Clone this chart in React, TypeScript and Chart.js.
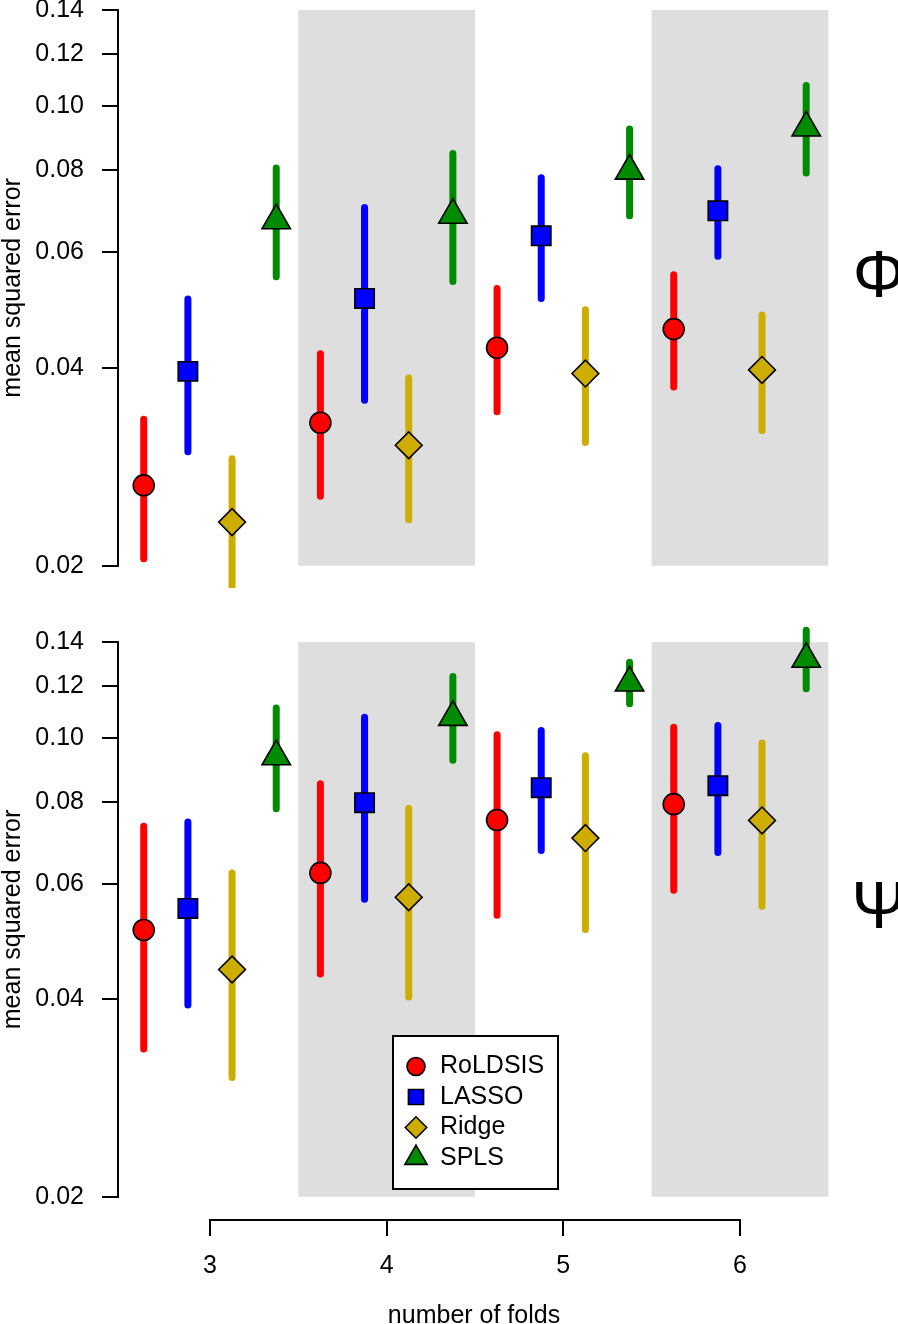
import React, { useEffect, useRef } from 'react';
import { Chart, registerables } from 'chart.js';

Chart.register(...registerables);

// ---------------- data ----------------
const folds = [3, 4, 5, 6];
const methods = ['RoLDSIS', 'LASSO', 'Ridge', 'SPLS'];
const methodOffsets = [-0.375, -0.125, 0.125, 0.375];
const shadedFolds = [4, 6];
const yTickValues = [0.02, 0.04, 0.06, 0.08, 0.1, 0.12, 0.14];
const xTickValues = [3, 4, 5, 6];
const yTitle = 'mean squared error';
const xTitle = 'number of folds';
const panelSymbols = ['Φ', 'Ψ'];

// rows: RoLDSIS, LASSO, Ridge, SPLS ; columns: folds 3, 4, 5, 6
const phiMean = [
  [0.0265, 0.033, 0.0429, 0.0458],
  [0.0395, 0.051, 0.0635, 0.0693],
  [0.0233, 0.0305, 0.0392, 0.0397],
  [0.067, 0.0683, 0.0797, 0.0927],
];
const phiLower = [
  [0.0205, 0.0255, 0.0343, 0.0374],
  [0.0298, 0.0357, 0.051, 0.0591],
  [0.0185, 0.0235, 0.0308, 0.0321],
  [0.055, 0.0541, 0.0681, 0.0791],
];
const phiUpper = [
  [0.0334, 0.042, 0.0528, 0.0554],
  [0.0509, 0.0701, 0.0778, 0.0803],
  [0.0291, 0.0386, 0.049, 0.0481],
  [0.0805, 0.0847, 0.0923, 0.1075],
];
const psiMean = [
  [0.051, 0.0623, 0.075, 0.0793],
  [0.055, 0.0797, 0.084, 0.0846],
  [0.0444, 0.0572, 0.0704, 0.0749],
  [0.0937, 0.1076, 0.1214, 0.1319],
];
const psiLower = [
  [0.0336, 0.0437, 0.0537, 0.0586],
  [0.0392, 0.0568, 0.0674, 0.0669],
  [0.0304, 0.0403, 0.0511, 0.0554],
  [0.078, 0.0925, 0.1128, 0.1189],
];
const psiUpper = [
  [0.0734, 0.0852, 0.1012, 0.1039],
  [0.0745, 0.1076, 0.1027, 0.1045],
  [0.0623, 0.0781, 0.094, 0.0983],
  [0.1111, 0.1241, 0.1305, 0.1459],
];
const phiAxisRange = [0.0185, 0.145];
const psiAxisRange = [0.0185, 0.1513];
const xAxisRange = [2.485, 6.504];

// ---------------- styles / layout ----------------
const W = 898;
const PAD = 24; // generous layout padding that dominates Chart.js's label padding
const FONT = '"Liberation Sans", Arial, Helvetica, sans-serif';
const colors = ['#FF0000', '#0000FF', '#CDAD00', '#008B00'];
const shapes = ['circle', 'rect', 'rectRot', 'triangle'];
const markerRadius = [10.5, 13.7, 13.4, 16.4];
const legendRadius = [9, 10.7, 10.7, 12.8];
const GRAY = '#DEDEDE';

Chart.defaults.font.family = FONT;
Chart.defaults.color = '#000';

function traceMarker(ctx: CanvasRenderingContext2D, shape: string, x: number, y: number, r: number) {
  ctx.beginPath();
  if (shape === 'circle') {
    ctx.arc(x, y, r, 0, Math.PI * 2);
  } else if (shape === 'rect') {
    const s = r * Math.SQRT1_2;
    ctx.rect(x - s, y - s, 2 * s, 2 * s);
  } else if (shape === 'rectRot') {
    ctx.moveTo(x - r, y);
    ctx.lineTo(x, y - r);
    ctx.lineTo(x + r, y);
    ctx.lineTo(x, y + r);
    ctx.closePath();
  } else {
    let a = 0;
    ctx.moveTo(x + Math.sin(a) * r, y - Math.cos(a) * r);
    a += (2 * Math.PI) / 3;
    ctx.lineTo(x + Math.sin(a) * r, y - Math.cos(a) * r);
    a += (2 * Math.PI) / 3;
    ctx.lineTo(x + Math.sin(a) * r, y - Math.cos(a) * r);
    ctx.closePath();
  }
}

type PanelProps = {
  mean: number[][];
  lower: number[][];
  upper: number[][];
  range: number[];
  symbol: string;
  bottom: boolean;
  height: number;
  marginTop: number;
};

function buildConfig(p: PanelProps): any {
  const pointSets = methods.map((name, k) => ({
    type: 'scatter',
    label: name,
    data: folds.map((f, i) => ({ x: f + methodOffsets[k], y: p.mean[k][i] })),
    pointStyle: shapes[k],
    pointRadius: markerRadius[k],
    pointBackgroundColor: colors[k],
    pointBorderColor: '#000',
    pointBorderWidth: 1.6,
    showLine: false,
    order: 0,
    clip: false,
  }));
  const barSets = methods.map((name, k) => ({
    type: 'line',
    label: name + ' interval',
    data: folds.flatMap((f, i) => [
      { x: f + methodOffsets[k], y: p.lower[k][i] },
      { x: f + methodOffsets[k], y: p.upper[k][i] },
      { x: f + methodOffsets[k], y: null },
    ]),
    borderColor: colors[k],
    borderWidth: 7,
    borderCapStyle: 'round',
    pointRadius: 0,
    spanGaps: false,
    fill: false,
    tension: 0,
    order: 1,
    clip: 0,
  }));

  const decor = {
    id: 'panelDecor',
    beforeDatasetsDraw(chart: any) {
      const { ctx, scales } = chart;
      const xs = scales.x;
      const ys = scales.y;
      const yTop = ys.getPixelForValue(yTickValues[yTickValues.length - 1]);
      const yBot = ys.getPixelForValue(yTickValues[0]);
      ctx.save();
      ctx.fillStyle = GRAY;
      for (const f of shadedFolds) {
        const x0 = xs.getPixelForValue(f - 0.5);
        const x1 = xs.getPixelForValue(f + 0.5);
        ctx.fillRect(x0, yTop, x1 - x0, yBot - yTop);
      }
      ctx.restore();
    },
    afterDraw(chart: any) {
      const { ctx, chartArea, scales } = chart;
      const xs = scales.x;
      const ys = scales.y;
      ctx.save();
      ctx.strokeStyle = '#000';
      ctx.fillStyle = '#000';
      ctx.lineWidth = 2;
      ctx.lineCap = 'square';
      // y axis line (only between first and last tick, R style)
      const yLo = Math.round(ys.getPixelForValue(yTickValues[0]));
      const yHi = Math.round(ys.getPixelForValue(yTickValues[yTickValues.length - 1]));
      ctx.beginPath();
      ctx.moveTo(chartArea.left - 1, yLo);
      ctx.lineTo(chartArea.left - 1, yHi);
      ctx.stroke();

      // y title
      const yMid = ys.getPixelForValue(Math.sqrt(yTickValues[0] * yTickValues[yTickValues.length - 1]));
      ctx.save();
      ctx.translate(20, yMid);
      ctx.rotate(-Math.PI / 2);
      ctx.font = `25px ${FONT}`;
      ctx.textAlign = 'center';
      ctx.textBaseline = 'alphabetic';
      ctx.fillText(yTitle, 0, 0);
      ctx.restore();

      // panel symbol
      ctx.font = `66px ${FONT}`;
      ctx.textAlign = 'center';
      ctx.textBaseline = 'alphabetic';
      ctx.fillText(p.symbol, 879, yMid + 9);

      if (p.bottom) {
        // x axis line between first and last tick
        const xa = Math.round(xs.getPixelForValue(xTickValues[0]));
        const xb = Math.round(xs.getPixelForValue(xTickValues[xTickValues.length - 1]));
        ctx.beginPath();
        ctx.moveTo(xa, chartArea.bottom + 1);
        ctx.lineTo(xb, chartArea.bottom + 1);
        ctx.stroke();

        // x title
        ctx.font = `25px ${FONT}`;
        ctx.textAlign = 'center';
        ctx.textBaseline = 'alphabetic';
        ctx.fillText(xTitle, (chartArea.left + chartArea.right) / 2, chart.height - 1);

        // legend (placed relative to the plot area bottom)
        const bx = 393;
        const bh = 153;
        const by = chartArea.bottom - 183;
        const bw = 165;
        ctx.fillStyle = '#FFFFFF';
        ctx.fillRect(bx, by, bw, bh);
        ctx.lineWidth = 2;
        ctx.lineCap = 'butt';
        ctx.strokeRect(bx, by, bw, bh);
        ctx.font = `25px ${FONT}`;
        ctx.textAlign = 'left';
        ctx.textBaseline = 'middle';
        methods.forEach((name, k) => {
          const ry = by + 30.5 + k * 30.5;
          ctx.lineWidth = 1.6;
          ctx.lineJoin = 'miter';
          ctx.fillStyle = colors[k];
          ctx.strokeStyle = '#000';
          traceMarker(ctx, shapes[k], bx + 23, ry, legendRadius[k]);
          ctx.fill();
          ctx.stroke();
          ctx.fillStyle = '#000';
          ctx.fillText(name, bx + 47, ry);
        });
      }
      ctx.restore();
    },
  };

  return {
    type: 'scatter',
    data: { datasets: [...pointSets, ...barSets] },
    plugins: [decor],
    options: {
      animation: false,
      responsive: false,
      maintainAspectRatio: false,
      devicePixelRatio: 1,
      events: [],
      layout: {
        padding: p.bottom
          ? { left: 0, right: 69, top: PAD, bottom: 0 }
          : { left: 0, right: 69, top: PAD, bottom: PAD },
      },
      plugins: {
        legend: { display: false },
        tooltip: { enabled: false },
        title: { display: false },
      },
      scales: {
        x: {
          type: 'linear',
          display: p.bottom,
          min: xAxisRange[0],
          max: xAxisRange[1],
          afterBuildTicks: (s: any) => {
            s.ticks = xTickValues.map((v) => ({ value: v }));
          },
          afterFit: (s: any) => {
            s.height = p.bottom ? 105 : 0;
            s.paddingLeft = 0;
            s.paddingRight = 0;
          },
          border: { display: false },
          grid: {
            drawOnChartArea: false,
            drawTicks: true,
            tickLength: 17,
            color: '#000',
            lineWidth: 2,
          },
          ticks: {
            autoSkip: false,
            maxRotation: 0,
            padding: 15,
            color: '#000',
            font: { family: FONT, size: 25 },
            callback: (v: any) => String(v),
          },
        },
        y: {
          type: 'logarithmic',
          min: p.range[0],
          max: p.range[1],
          afterBuildTicks: (s: any) => {
            s.ticks = yTickValues.map((v) => ({ value: v }));
          },
          afterFit: (s: any) => {
            s.width = 119;
            s.paddingTop = 0;
            s.paddingBottom = 0;
          },
          border: { display: false },
          grid: {
            drawOnChartArea: false,
            drawTicks: true,
            tickLength: 17,
            color: '#000',
            lineWidth: 2,
          },
          ticks: {
            autoSkip: false,
            padding: 18,
            color: '#000',
            font: { family: FONT, size: 25 },
            callback: (v: any) => Number(v).toFixed(2),
          },
        },
      },
    },
  };
}

function Panel(props: PanelProps) {
  const ref = useRef<HTMLCanvasElement | null>(null);
  useEffect(() => {
    if (!ref.current) return;
    const chart = new Chart(ref.current, buildConfig(props));
    return () => chart.destroy();
  }, []);
  return (
    <canvas
      ref={ref}
      width={W}
      height={props.height}
      style={{
        display: 'block',
        position: 'relative',
        width: W,
        height: props.height,
        marginTop: props.marginTop,
      }}
    />
  );
}

export default function App() {
  useEffect(() => {
    document.body.style.margin = '0';
    document.body.style.background = '#ffffff';
    document.body.style.overflow = 'hidden';
  }, []);
  // top canvas: plot area spans page y 0..588 ; bottom canvas: plot area page y 620..1219
  return (
    <div style={{ width: W, height: 1324, overflow: 'hidden', background: '#ffffff' }}>
      <Panel
        mean={phiMean}
        lower={phiLower}
        upper={phiUpper}
        range={phiAxisRange}
        symbol={panelSymbols[0]}
        bottom={false}
        height={PAD + 588 + PAD}
        marginTop={-PAD}
      />
      <Panel
        mean={psiMean}
        lower={psiLower}
        upper={psiUpper}
        range={psiAxisRange}
        symbol={panelSymbols[1]}
        bottom={true}
        height={1324 - (620 - PAD)}
        marginTop={620 - PAD - (588 + PAD)}
      />
    </div>
  );
}
